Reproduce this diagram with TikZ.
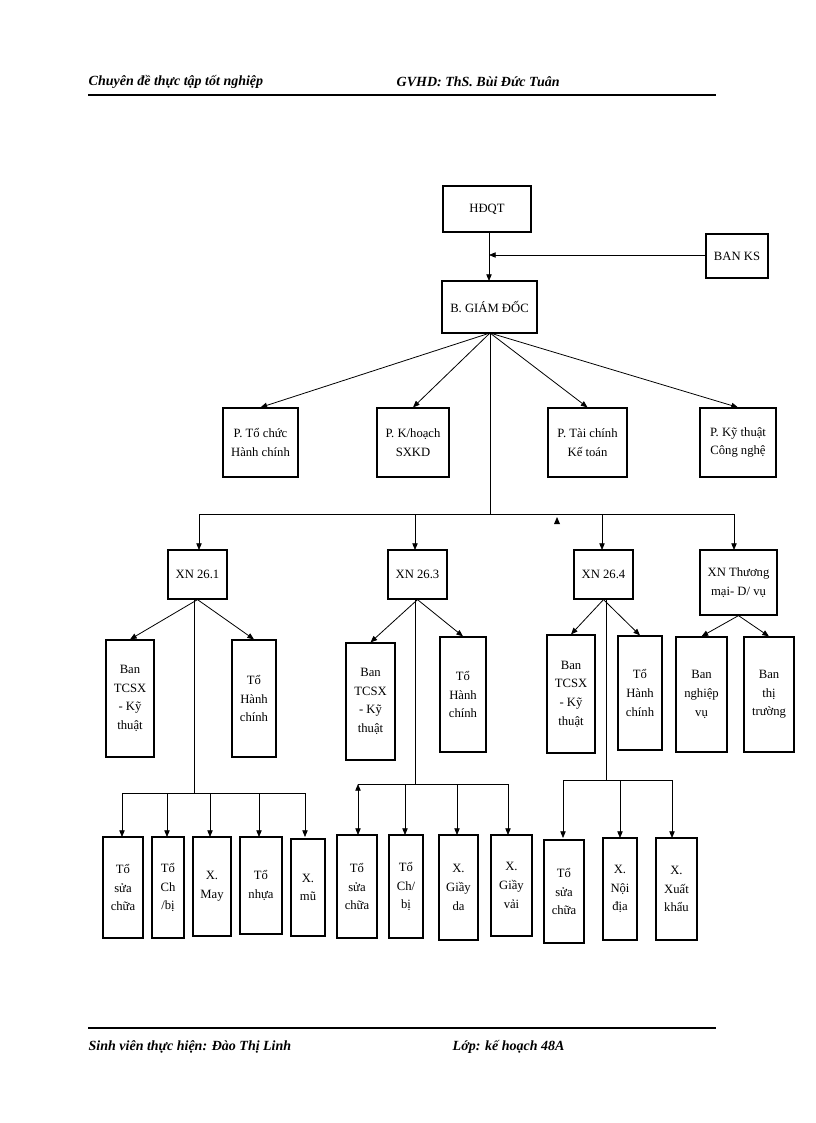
\documentclass[tikz,border=0pt]{standalone}
\usepackage{fontspec}
\setmainfont{Liberation Serif}
\usetikzlibrary{arrows.meta}
\newcommand\bx[6]{\node[box,minimum width={(#4-#2)*0.75pt},minimum height={(#5-#3)*0.75pt}] (#1) at ({(#2+#4)/2},{(#3+#5)/2}) {#6};}
\begin{document}
\begin{tikzpicture}[x=0.75pt,y=-0.75pt,
  box/.style={draw,line width=0.9pt,inner sep=1pt,align=center,font=\fontsize{9.5}{14}\selectfont},
  arr/.style={-{Triangle[length=5pt,width=4pt]},line width=0.6pt},
  ln/.style={line width=0.6pt},
  hd/.style={font=\fontsize{10.5}{12}\selectfont\bfseries\itshape,anchor=west}]
\useasboundingbox (0,0) rectangle (816,1123);
% header/footer
\node[hd] (h1) at (84,82) {Chuyên đề thực tập tốt nghiệp};
\node[hd] (h2) at (392,82) {GVHD: ThS. Bùi Đức Tuân};
\draw[line width=1.5pt] (88,95) -- (716,95);
\draw[line width=1.5pt] (88,1028) -- (716,1028);
\node[hd] (f1) at (84,1047) {Sinh viên thực hiện: Đào Thị Linh};
\node[hd] (f2) at (448,1047) {Lớp: kế hoạch 48A};
% top
\bx{hdqt}{443}{186}{531}{232}{HĐQT}
\bx{banks}{706}{234}{768}{278}{BAN KS}
\bx{gd}{442}{281}{537}{333}{B. GIÁM ĐỐC}
\draw[arr] (489,232) -- (489,281);
\coordinate (ksj) at (489,255);
\draw[arr] (banks.west |- ksj) -- (ksj);
\bx{p1}{223}{408}{298}{477}{P. Tổ chức\\Hành chính}
\bx{p2}{377}{408}{449}{477}{P. K/hoạch\\SXKD}
\bx{p3}{548}{408}{627}{477}{P. Tài chính\\Kế toán}
\bx{p4}{700}{408}{776}{477}{P. Kỹ thuật\\Công nghệ}
\coordinate (gs) at (490,333);
\foreach \p in {p1,p2,p3,p4} \draw[arr] (gs) -- (\p.north);
% bus
\coordinate (busc) at (490,514);
\draw[ln] (gs) -- (busc);
\draw[ln] (199,514) -- (734,514);
\fill (557,517) -- (554,524) -- (560,524) -- cycle;
\bx{x1}{168}{550}{227}{599}{XN 26.1}
\bx{x3}{388}{550}{447}{599}{XN 26.3}
\bx{x4}{574}{550}{633}{599}{XN 26.4}
\bx{x5}{700}{550}{777}{615}{XN Thương\\mại- D/ vụ}
\foreach \x/\n in {199/x1,415/x3,602/x4,734/x5} \draw[arr] (\x,514) -- (\x,550);
% second row
\bx{b1}{106}{640}{154}{757}{Ban\\TCSX\\- Kỹ\\thuật}
\bx{t1}{232}{640}{276}{757}{Tổ\\Hành\\chính}
\bx{b3}{346}{643}{395}{760}{Ban\\TCSX\\- Kỹ\\thuật}
\bx{t3}{440}{637}{486}{752}{Tổ\\Hành\\chính}
\bx{b4}{547}{635}{595}{753}{Ban\\TCSX\\- Kỹ\\thuật}
\bx{t4}{618}{636}{662}{750}{Tổ\\Hành\\chính}
\bx{bn}{676}{637}{727}{752}{Ban\\nghiệp\\vụ}
\bx{bt}{744}{637}{794}{752}{Ban\\thị\\trường}
\draw[arr] (x1.south) -- (b1.north); \draw[arr] (x1.south) -- (t1.north);
\draw[arr] (x3.south) -- (b3.north); \draw[arr] (x3.south) -- (t3.north);
\draw[arr] (x4.south) -- (b4.north); \draw[arr] (x4.south) -- (t4.north);
\draw[arr] (x5.south) -- (bn.north); \draw[arr] (x5.south) -- (bt.north);
% third row group 1
\draw[ln] (194,599) -- (194,793);
\draw[ln] (122,793) -- (305,793);
\bx{c1}{103}{837}{143}{938}{Tổ\\sửa\\chữa}
\bx{c2}{152}{837}{184}{938}{Tổ\\Ch\\/bị}
\bx{c3}{193}{837}{231}{936}{X.\\May}
\bx{c4}{240}{837}{282}{934}{Tổ\\nhựa}
\bx{c5}{291}{839}{325}{936}{X.\\mũ}
\foreach \x/\n in {122/c1,167/c2,210/c3,259/c4,305/c5} \draw[arr] (\x,793) -- (\x,837);
% group 2
\draw[ln] (415,599) -- (415,784);
\draw[ln] (358,784) -- (508,784);
\bx{d1}{337}{835}{377}{938}{Tổ\\sửa\\chữa}
\bx{d2}{389}{835}{423}{938}{Tổ\\Ch/\\bị}
\bx{d3}{439}{835}{478}{940}{X.\\Giầy\\da}
\bx{d4}{491}{835}{532}{936}{X.\\Giầy\\vải}
\draw[{Triangle[length=5pt,width=4pt]}-{Triangle[length=5pt,width=4pt]},line width=0.6pt] (358,784) -- (358,835);
\foreach \x/\n in {405/d2,457/d3,508/d4} \draw[arr] (\x,784) -- (\x,835);
% group 3
\draw[ln] (606,599) -- (606,780);
\draw[ln] (563,780) -- (672,780);
\bx{e1}{544}{840}{584}{943}{Tổ\\sửa\\chữa}
\bx{e2}{603}{838}{637}{940}{X.\\Nội\\địa}
\bx{e3}{656}{838}{697}{940}{X.\\Xuất\\khẩu}
\foreach \x/\n in {563/e1,620/e2,672/e3} \draw[arr] (\x,780) -- (\x,838);
\end{tikzpicture}
\end{document}
